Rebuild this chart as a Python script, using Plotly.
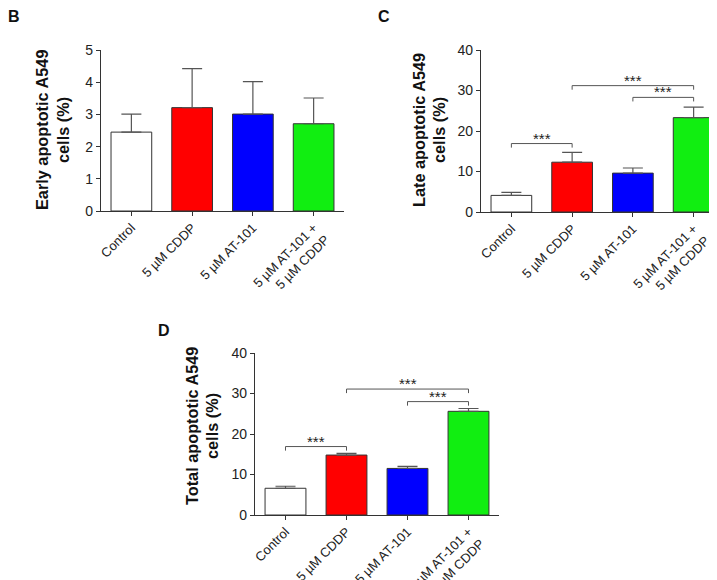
import plotly.graph_objects as go

W, H = 717, 580

categories = ["Control", "5 µM CDDP", "5 µM AT-101", "5 µM AT-101 +<br>5 µM CDDP"]
bar_colors = ["#FFFFFF", "#FF0000", "#0000FF", "#11EE11"]

early_vals = [2.45, 3.21, 3.01, 2.71]
early_err = [0.56, 1.21, 1.01, 0.80]

late_vals = [4.1, 12.3, 9.6, 23.3]
late_err = [0.76, 2.4, 1.26, 2.6]

total_vals = [6.6, 14.8, 11.5, 25.6]
total_err = [0.5, 0.4, 0.5, 0.7]

# significance comparisons: (from index, to index, bracket height)
late_sig = [(0, 1, 16.9), (1, 3, 31.2), (2, 3, 28.3)]
total_sig = [(0, 1, 16.9), (1, 3, 31.1), (2, 3, 28.0)]

FONT = "Arial, Liberation Sans, sans-serif"
AX = "#333333"

def px(x):
    return x / W

def py(y):
    return 1 - y / H

fig = go.Figure()

panels = [
    dict(vals=early_vals, err=early_err, xa="x", ya="y", xdom=[px(93), px(336)], ydom=[py(203), py(42)],
         yrange=[0, 5], dtick=1, sig=[], title=["Early apoptotic A549", "cells (%)"],
         tx=[33.5, 54.5], ty=122.5, label="B", lx=6, ly=9),
    dict(vals=late_vals, err=late_err, xa="x2", ya="y2", xdom=[px(473), px(716)], ydom=[py(204), py(42)],
         yrange=[0, 40], dtick=10, sig=late_sig, title=["Late apoptotic A549", "cells (%)"],
         tx=[411, 431], ty=122, label="C", lx=376, ly=9),
    dict(vals=total_vals, err=total_err, xa="x3", ya="y3", xdom=[px(247), px(491)], ydom=[py(507), py(345)],
         yrange=[0, 40], dtick=10, sig=total_sig, title=["Total apoptotic A549", "cells (%)"],
         tx=[184, 204], ty=418, label="D", lx=156, ly=322),
]

layout = dict(
    width=W, height=H, margin=dict(l=0, r=0, t=0, b=0, pad=0, autoexpand=False),
    paper_bgcolor="white", plot_bgcolor="white", showlegend=False,
    font=dict(family=FONT, color="#222222"),
    annotations=[], shapes=[],
)

for i, p in enumerate(panels):
    fig.add_trace(go.Bar(
        x=categories, y=p["vals"], xaxis=p["xa"], yaxis=p["ya"],
        marker=dict(color=bar_colors, line=dict(color=AX, width=1)),
        width=0.67,
        error_y=dict(type="data", array=p["err"], arrayminus=[0] * len(p["err"]),
                     symmetric=False, color="#555555", thickness=1.2, width=10),
    ))
    suffix = "" if i == 0 else str(i + 1)
    layout["xaxis" + suffix] = dict(
        domain=p["xdom"], anchor=p["ya"], range=[-0.5, 3.5], type="category",
        showline=True, linecolor=AX, linewidth=1.2, ticks="outside", ticklen=4,
        tickcolor=AX, tickwidth=1.2, tickangle=-45, showgrid=False, zeroline=False,
        tickfont=dict(size=13, family=FONT, color="#222222"), fixedrange=True, automargin=False,
        ticklabelstandoff=-1,
    )
    layout["yaxis" + suffix] = dict(
        domain=p["ydom"], anchor=p["xa"], range=p["yrange"], dtick=p["dtick"],
        showline=True, linecolor=AX, linewidth=1.2, ticks="outside", ticklen=4,
        tickcolor=AX, tickwidth=1.2, showgrid=False, zeroline=False,
        tickfont=dict(size=14, family=FONT, color="#222222"), fixedrange=True, automargin=False,
    )
    for line_text, lx in zip(p["title"], p["tx"]):
        layout["annotations"].append(dict(
            text="<b>" + line_text + "</b>", x=px(lx), y=py(p["ty"]), xref="paper", yref="paper",
            textangle=-90, showarrow=False, xanchor="center", yanchor="middle",
            font=dict(size=16.3, family=FONT, color="#111111"),
        ))
    layout["annotations"].append(dict(
        text="<b>" + p["label"] + "</b>", x=px(p["lx"]), y=py(p["ly"]), xref="paper", yref="paper",
        showarrow=False, xanchor="center", yanchor="middle",
        font=dict(size=16, family=FONT, color="#111111"),
    ))
    drop = (p["yrange"][1] - p["yrange"][0]) / 40.0
    for (a, b, h) in p["sig"]:
        for (x0, y0, x1, y1) in [(a, h, b, h), (a, h, a, h - drop), (b, h, b, h - drop)]:
            layout["shapes"].append(dict(
                type="line", xref=p["xa"], yref=p["ya"], x0=x0, y0=y0, x1=x1, y1=y1,
                line=dict(color="#555555", width=1),
            ))
        layout["annotations"].append(dict(
            text="***", x=(a + b) / 2, y=h, xref=p["xa"], yref=p["ya"], showarrow=False,
            xanchor="center", yanchor="bottom", yshift=-5,
            font=dict(size=15, family=FONT, color="#222222"),
        ))

fig.update_layout(**layout)
fig.write_html("out.html")
